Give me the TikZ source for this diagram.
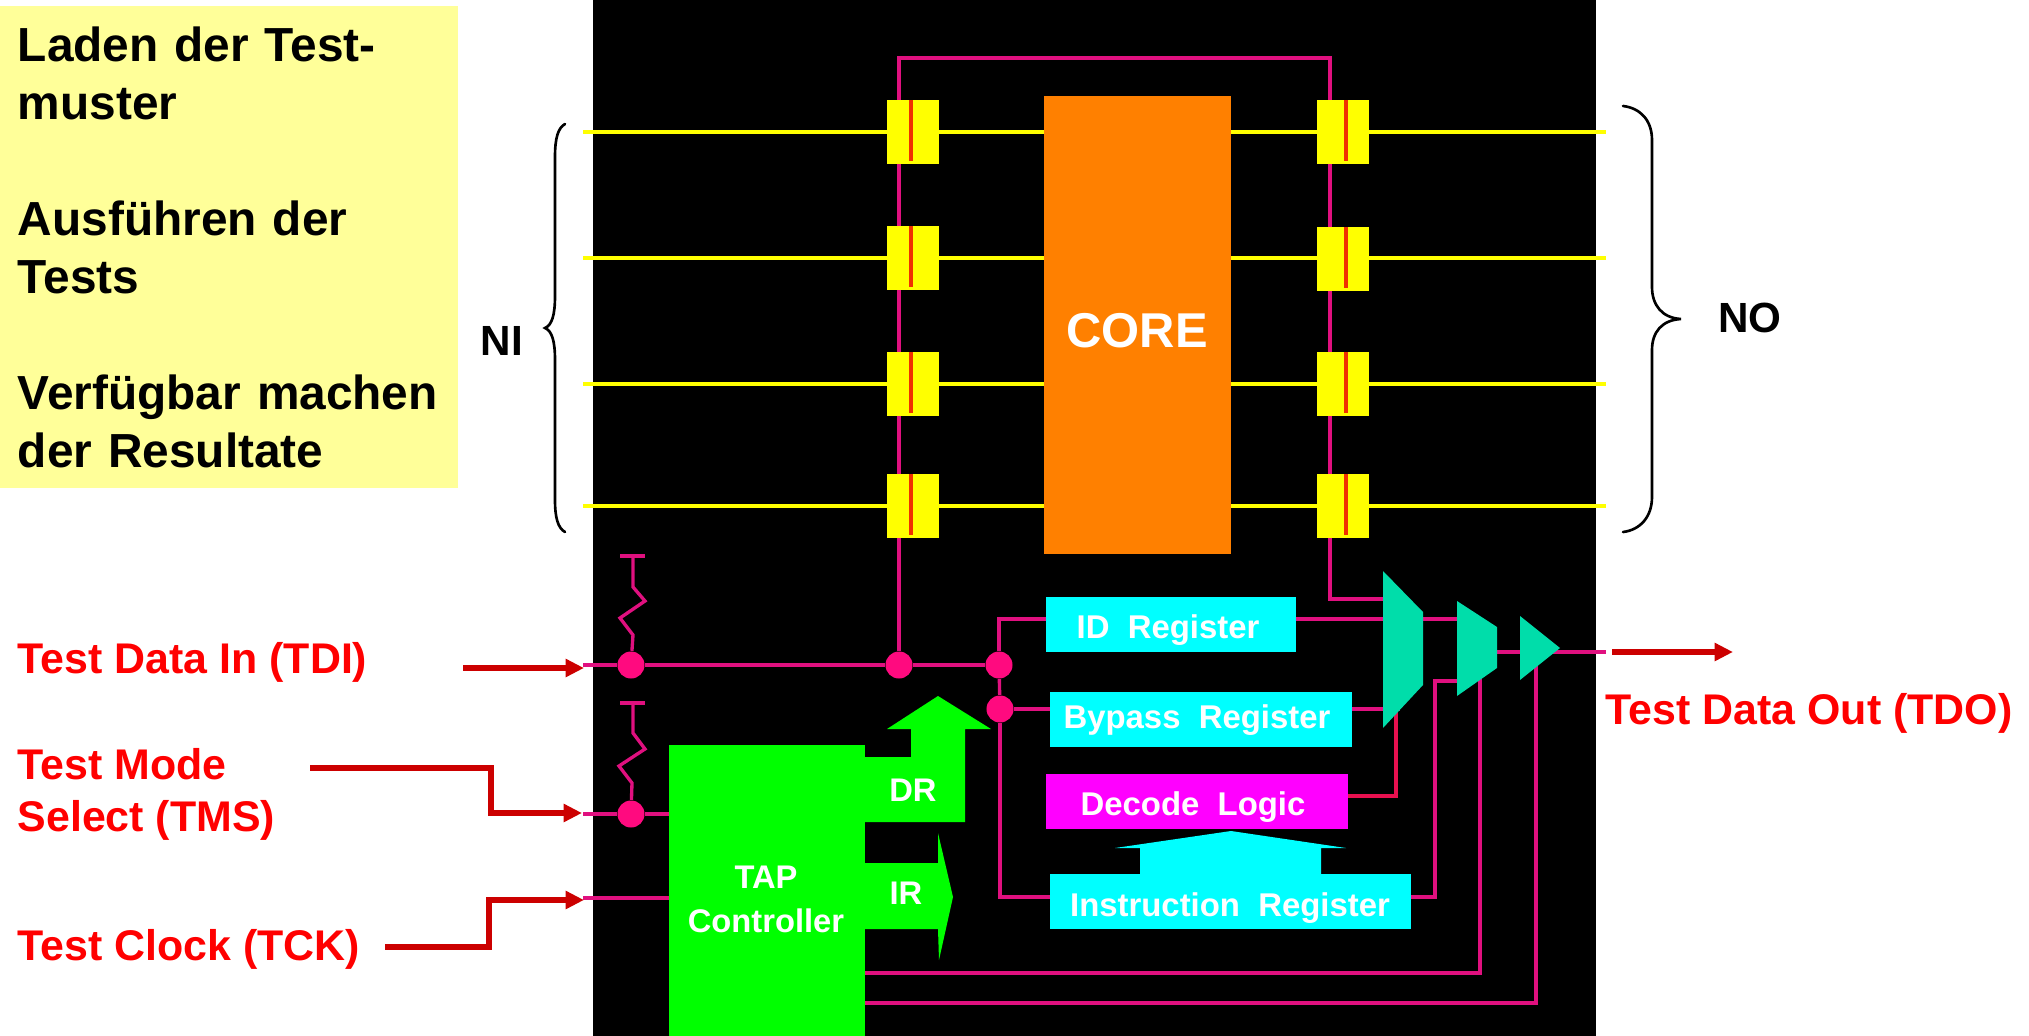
\documentclass[tikz,border=0pt]{standalone}
\usepackage{fontspec}
\setmainfont{Liberation Sans}
\usepackage{tikz}
\usetikzlibrary{arrows.meta}
\definecolor{wirepink}{HTML}{E0107F}
\definecolor{dotpink}{HTML}{FF0A7F}
\definecolor{decodewire}{HTML}{E8104F}
\definecolor{padyellow}{HTML}{FFFF99}
\definecolor{cellyellow}{HTML}{FFFF00}
\definecolor{barred}{HTML}{F03000}
\definecolor{coreorange}{HTML}{FF8000}
\definecolor{regcyan}{HTML}{00FFFF}
\definecolor{logicmagenta}{HTML}{FF00FF}
\definecolor{tapgreen}{HTML}{00FF00}
\definecolor{muxgreen}{HTML}{00DDAA}
\definecolor{arrowred}{HTML}{CC0000}
\definecolor{labelred}{HTML}{FF0000}
\tikzset{
  wire/.style={wirepink,line width=.95pt},
  scanline/.style={cellyellow,line width=1pt},
  cell/.style={fill=cellyellow,inner sep=0pt,minimum width=.52cm,minimum height=.64cm},
  cellbar/.style={barred,line width=.9pt},
  joint/.style={circle,fill=dotpink,inner sep=0pt,minimum size=.27cm},
  regbox/.style={fill=regcyan,inner sep=0pt,minimum height=.55cm},
  regtext/.style={white,font=\fontsize{9.35}{12}\selectfont\bfseries},
  muxshape/.style={fill=muxgreen},
  padlabel/.style={labelred,anchor=west,align=left,inner sep=0pt,font=\fontsize{12.2}{14.8}\selectfont\bfseries},
  sidelabel/.style={font=\fontsize{12}{14}\selectfont\bfseries},
  redarrow/.style={arrowred,line width=1.7pt,-{Triangle[length=5.2pt,width=4.9pt]}},
  bracket/.style={black,line width=.75pt,line cap=round},
}
\begin{document}
\begin{tikzpicture}[x=.01cm,y=-.01cm]
\useasboundingbox (0,0) rectangle (2029,1036);
\fill[black] (593,0) rectangle (1596,1036);
\draw (229,247)node[fill=padyellow,inner xsep=.18cm,inner ysep=0pt,text width=4.22cm,minimum height=4.82cm,align=left,font=\fontsize{13.6}{16.5}\selectfont\bfseries](panel){Laden der Test-\\muster\\[16.5pt]Ausführen der\\Tests\\[16.5pt]Verfügbar machen\\der Resultate};
\coordinate (pia) at (583,132);
\coordinate (pib) at (583,258);
\coordinate (pic) at (583,384);
\coordinate (pid) at (583,506);
\coordinate (poa) at (1606,132);
\coordinate (pob) at (1606,258);
\coordinate (poc) at (1606,384);
\coordinate (pod) at (1606,506);
\draw [scanline] (pia)--(poa);
\draw [scanline] (pib)--(pob);
\draw [scanline] (pic)--(poc);
\draw [scanline] (pid)--(pod);
\coordinate (tdipad) at (583,665);
\coordinate (tmspad) at (583,814);
\coordinate (tckpad) at (583,898);
\coordinate (tdopad) at (1606,652);
\draw (631,665)node[joint](dota){};
\draw (899,665)node[joint](dotb){};
\draw (999,665)node[joint](dotc){};
\draw (1000,709)node[joint](dotd){};
\draw (631,814)node[joint](dote){};
\draw (767,890.5)node[fill=tapgreen,inner sep=0pt,minimum width=1.96cm,minimum height=2.91cm](tap){};
\coordinate (tapms) at (669,814);
\coordinate (tapck) at (669,898);
\coordinate (tapsela) at (865,973);
\coordinate (tapselb) at (865,1003);
\coordinate (topl) at (899,58);
\coordinate (topr) at (1330,58);
\coordinate (scanend) at (1330,599);
\coordinate (idin) at (1046,619);
\coordinate (idout) at (1296,619);
\coordinate (bpin) at (1050,709);
\coordinate (bpout) at (1352,709);
\coordinate (dlout) at (1348,796);
\coordinate (irin) at (1050,897);
\coordinate (irout) at (1411,897);
\coordinate (muxatop) at (1400,599);
\coordinate (muxaid) at (1400,619);
\coordinate (muxabp) at (1400,709);
\coordinate (muxasel) at (1396,700);
\coordinate (muxaout) at (1423,619);
\coordinate (muxbin) at (1470,619);
\coordinate (muxbsel) at (1480,670);
\coordinate (muxbir) at (1470,681);
\coordinate (muxbout) at (1497,652);
\coordinate (muxcin) at (1530,652);
\coordinate (muxcsel) at (1536,660);
\coordinate (muxcout) at (1550,652);
\draw [wire] (tdipad)--(dota);
\draw [wire] (dota)--(dotb);
\draw [wire] (dotb)--(dotc);
\draw [wire] (dotc)--(dotd);
\draw [wire] (tmspad)--(dote);
\draw [wire] (dote)--(tapms);
\draw [wire] (tckpad)--(tapck);
\draw [wire] (dota)--(633,635)--(620,618)--(645,601)--(633,587)--(633,556);
\draw [wire] (620,556)--(645,556);
\draw [wire] (dote)--(632,783)--(619,766)--(645,749)--(633,733)--(633,703);
\draw [wire] (620,703)--(645,703);
\draw [wire] (dotb)--(topl)--(topr)--(scanend)--(muxatop);
\draw [wire] (dotc)|-(idin);
\draw [wire] (dotd)--(bpin);
\draw [wire] (dotd)|-(irin);
\draw [wire] (idout)--(muxaid);
\draw [wire] (bpout)--(muxabp);
\draw [wire,decodewire] (dlout)-|(muxasel);
\draw [wire] (muxaout)--(muxbin);
\draw [wire] (irout)-|(1435,681)--(muxbir);
\draw [wire] (muxbout)--(muxcin);
\draw [wire] (muxcout)--(tdopad);
\draw [wire] (tapsela)-|(muxbsel);
\draw [wire] (tapselb)-|(muxcsel);
\draw (913,132)node[cell](cia){};
\draw (913,258)node[cell](cib){};
\draw (913,384)node[cell](cic){};
\draw (913,506)node[cell](cid){};
\draw (1343,132)node[cell](coa){};
\draw (1343,259)node[cell](cob){};
\draw (1343,384)node[cell](coc){};
\draw (1343,506)node[cell](cod){};
\draw [cellbar] (911,100)--(911,161);
\draw [cellbar] (911,226)--(911,287);
\draw [cellbar] (911,352)--(911,413);
\draw [cellbar] (911,474)--(911,535);
\draw [cellbar] (1346,100)--(1346,161);
\draw [cellbar] (1346,227)--(1346,288);
\draw [cellbar] (1346,352)--(1346,413);
\draw [cellbar] (1346,474)--(1346,535);
\draw (1137.5,325)node[fill=coreorange,inner sep=0pt,minimum width=1.87cm,minimum height=4.58cm](core){};
\draw (1137,331)node[white,font=\fontsize{13.9}{16}\selectfont\bfseries](corelabel){CORE};
\draw (1171,624.5)node[regbox,minimum width=2.5cm](idreg){};
\draw (1201,719.5)node[regbox,minimum width=3.02cm](bpreg){};
\draw (1197,801.5)node[regbox,fill=logicmagenta,minimum width=3.02cm](dlreg){};
\draw (1230.5,901.5)node[regbox,minimum width=3.61cm](irreg){};
\draw (1168,630)node[regtext](idlabel){ID~~Register};
\draw (1197,720)node[regtext](bplabel){Bypass~~Register};
\draw (1193,807)node[regtext](dllabel){Decode~~Logic};
\draw (1230,908)node[regtext](irlabel){Instruction~~Register};
\fill [regcyan] (1140,874)--(1140,848)--(1115,848)--(1231,831)--(1346,848)--(1321,848)--(1321,874)--cycle;
\fill [tapgreen] (865,757)--(911,757)--(911,729)--(887,729)--(938,696)--(991,729)--(965,729)--(965,822)--(865,822)--cycle;
\fill [tapgreen] (865,863)--(938,863)--(938,833)--(953,897)--(939,960)--(938,929)--(865,929)--cycle;
\draw (766,899)node[white,align=center,font=\fontsize{9.3}{12.5}\selectfont\bfseries](taplabel){TAP\\Controller};
\draw (913,790)node[white,font=\fontsize{9.3}{11}\selectfont\bfseries](drlabel){DR};
\draw (906,893)node[white,font=\fontsize{9.3}{11}\selectfont\bfseries](irtext){IR};
\fill [muxshape] (1383,571)--(1423,612)--(1423,685)--(1383,728)--cycle;
\fill [muxshape] (1457,601)--(1497,627)--(1497,668)--(1457,696)--cycle;
\fill [muxshape] (1520,616)--(1560,648)--(1520,680)--cycle;
\draw (17,662)node[padlabel](tdilabel){Test Data In (TDI)};
\draw (17,794)node[padlabel](tmslabel){Test Mode\\Select (TMS)};
\draw (17,949)node[padlabel](tcklabel){Test Clock (TCK)};
\draw (1605,713)node[padlabel](tdolabel){Test Data Out (TDO)};
\coordinate (tdifrom) at (463,668);
\coordinate (tdito) at (584,668);
\coordinate (tmsfrom) at (310,768);
\coordinate (tmsto) at (582,813);
\coordinate (tckfrom) at (385,947);
\coordinate (tckto) at (584,900);
\coordinate (tdofrom) at (1612,652);
\coordinate (tdoto) at (1733,652);
\draw [redarrow] (tdifrom)--(tdito);
\draw [redarrow] (tmsfrom)-|(491,813)--(tmsto);
\draw [redarrow] (tckfrom)-|(489,900)--(tckto);
\draw [redarrow] (tdofrom)--(tdoto);
\draw [bracket] (565,124) .. controls (558,128) and (555,138) .. (555,157)--(555,296) .. controls (555,315) and (552,325) .. (545,328) .. controls (552,331) and (555,341) .. (555,360)--(555,500) .. controls (555,518) and (558,528) .. (565,532);
\draw [bracket] (1623,106) .. controls (1640,108) and (1652,120) .. (1652,140)--(1652,287) .. controls (1652,305) and (1662,318) .. (1681,319) .. controls (1662,320) and (1652,332) .. (1652,350)--(1652,497) .. controls (1652,517) and (1640,530) .. (1623,532);
\draw (502,341)node[sidelabel](nilabel){NI};
\draw (1750,318)node[sidelabel](nolabel){NO};
\end{tikzpicture}
\end{document}
